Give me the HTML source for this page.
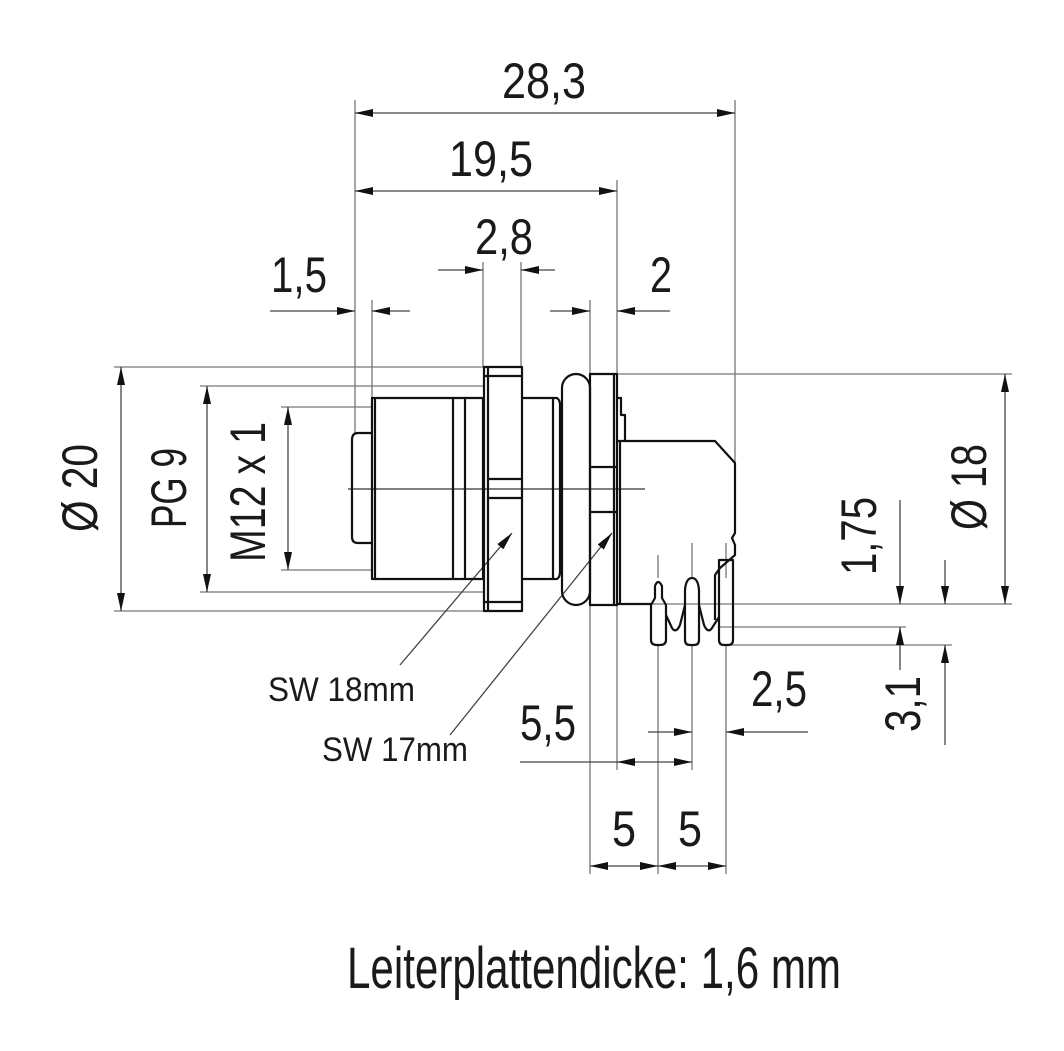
<!DOCTYPE html>
<html><head><meta charset="utf-8"><style>
html,body{margin:0;padding:0;background:#fff;}
svg{display:block;}
text{font-family:"Liberation Sans Narrow","Liberation Sans",sans-serif;fill:#1a1a1a;}
</style></head><body>
<svg width="1064" height="1051" viewBox="0 0 1064 1051" xmlns="http://www.w3.org/2000/svg">
<defs>
<marker id="a" viewBox="0 0 18 8" refX="18" refY="4" markerWidth="18" markerHeight="8" markerUnits="userSpaceOnUse" orient="auto-start-reverse">
<path d="M0,0 L18,4 L0,8 z" fill="#111"/></marker>
</defs>
<g stroke="#777" stroke-width="1.3" fill="none">
<line x1="355" y1="100" x2="355" y2="433"/>
<line x1="372" y1="300" x2="372" y2="398"/>
<line x1="483" y1="262" x2="483" y2="367"/>
<line x1="521" y1="262" x2="521" y2="367"/>
<line x1="590" y1="300" x2="590" y2="874"/>
<line x1="617" y1="180" x2="617" y2="770"/>
<line x1="735" y1="100" x2="735" y2="463"/>
<line x1="658" y1="645" x2="658" y2="874"/>
<line x1="692" y1="645" x2="692" y2="770"/>
<line x1="726" y1="645" x2="726" y2="874"/>
<line x1="658" y1="555" x2="658" y2="578"/>
<line x1="692" y1="543" x2="692" y2="578"/>
<line x1="726" y1="543" x2="726" y2="578"/>
<line x1="114" y1="367" x2="484" y2="367"/>
<line x1="114" y1="611" x2="484" y2="611"/>
<line x1="200" y1="386" x2="484" y2="386"/>
<line x1="200" y1="592" x2="484" y2="592"/>
<line x1="281" y1="407" x2="372" y2="407"/>
<line x1="281" y1="570" x2="372" y2="570"/>
<line x1="617" y1="374" x2="1012" y2="374"/>
<line x1="617" y1="604" x2="1012" y2="604"/>
<line x1="720" y1="627" x2="906" y2="627"/>
<line x1="726" y1="645" x2="952" y2="645"/>
<line x1="348" y1="489" x2="645" y2="489" stroke="#333"/>
</g>
<g stroke="#444" stroke-width="1.3" fill="none">
<line x1="355" y1="113" x2="735" y2="113" marker-start="url(#a)" marker-end="url(#a)"/>
<line x1="355" y1="191" x2="617" y2="191" marker-start="url(#a)" marker-end="url(#a)"/>
<line x1="438" y1="270" x2="483" y2="270" marker-end="url(#a)"/>
<line x1="555" y1="270" x2="521" y2="270" marker-end="url(#a)"/>
<line x1="270" y1="311" x2="355" y2="311" marker-end="url(#a)"/>
<line x1="410" y1="311" x2="372" y2="311" marker-end="url(#a)"/>
<line x1="550" y1="311" x2="590" y2="311" marker-end="url(#a)"/>
<line x1="670" y1="311" x2="617" y2="311" marker-end="url(#a)"/>
<line x1="121" y1="367" x2="121" y2="611" marker-start="url(#a)" marker-end="url(#a)"/>
<line x1="207" y1="386" x2="207" y2="592" marker-start="url(#a)" marker-end="url(#a)"/>
<line x1="288" y1="407" x2="288" y2="570" marker-start="url(#a)" marker-end="url(#a)"/>
<line x1="1005" y1="374" x2="1005" y2="604" marker-start="url(#a)" marker-end="url(#a)"/>
<line x1="900" y1="500" x2="900" y2="604" marker-end="url(#a)"/>
<line x1="900" y1="670" x2="900" y2="627" marker-end="url(#a)"/>
<line x1="945" y1="560" x2="945" y2="604" marker-end="url(#a)"/>
<line x1="945" y1="745" x2="945" y2="645" marker-end="url(#a)"/>
<line x1="617" y1="762" x2="692" y2="762" marker-start="url(#a)" marker-end="url(#a)"/>
<line x1="520" y1="762" x2="617" y2="762"/>
<line x1="648" y1="732" x2="692" y2="732" marker-end="url(#a)"/>
<line x1="808" y1="732" x2="726" y2="732" marker-end="url(#a)"/>
<line x1="590" y1="866" x2="658" y2="866" marker-start="url(#a)" marker-end="url(#a)"/>
<line x1="658" y1="866" x2="726" y2="866" marker-start="url(#a)" marker-end="url(#a)"/>
<line x1="400" y1="665" x2="512" y2="533" marker-end="url(#a)"/>
<line x1="450" y1="735" x2="612" y2="533" marker-end="url(#a)"/>
</g>
<g stroke="#111" stroke-width="2.2" fill="none" stroke-linejoin="round">
<path d="M372,433 L358,433 Q352,433 352,440 L352,537 Q352,543 358,543 L372,543"/>
<rect x="372" y="398" width="111" height="181"/>
<line x1="375" y1="398" x2="375" y2="579"/>
<line x1="453" y1="398" x2="453" y2="579"/>
<line x1="465" y1="398" x2="465" y2="579"/>
<rect x="484" y="367" width="38" height="244"/>
<line x1="488" y1="367" x2="488" y2="611"/>
<line x1="484" y1="376" x2="522" y2="376"/>
<line x1="484" y1="602" x2="522" y2="602"/>
<line x1="488" y1="479" x2="522" y2="479"/>
<line x1="488" y1="498" x2="522" y2="498"/>
<path d="M522,398 L557,398 Q560,400 560,405 L560,572 Q560,577 557,579 L522,579"/>
<line x1="553" y1="398" x2="553" y2="579"/>
<rect x="562" y="374" width="28" height="231" rx="14"/>
<rect x="590" y="374" width="27" height="231"/>
<line x1="590" y1="467" x2="617" y2="467"/>
<line x1="590" y1="512" x2="617" y2="512"/>
<line x1="614" y1="374" x2="614" y2="605"/>
<path d="M617,398 L621,398 L621,415 L625,415 L625,441"/>
<path d="M617,441 L715,441 L735,463 L735,533 L732,538 L735,545 L735,555 L720,568 L715,575 L715,620"/>
<line x1="617" y1="604" x2="652" y2="604"/>
<line x1="620" y1="441" x2="620" y2="604"/>
<!-- pins -->
<path d="M651,640 L651,605 L655,598 L655,586 Q658,578 662,586 L662,598 L666,605 L666,640 Q666,645 660,645 L657,645 Q651,645 651,640 Z"/>
<path d="M685,640 L685,590 Q686,578 692,578 Q698,578 699,590 L699,640 Q699,645 694,645 L690,645 Q685,645 685,640 Z"/>
<path d="M719,640 L719,560 L733,560 L733,640 Q733,645 728,645 L724,645 Q719,645 719,640 Z"/>
<path d="M666,615 L672,628 Q676,634 680,625 L685,605"/>
<path d="M699,605 L704,625 Q708,634 712,628 L719,617"/>
</g>
<text x="502" y="98" font-size="50" textLength="84" lengthAdjust="spacingAndGlyphs">28,3</text>
<text x="449" y="176" font-size="50" textLength="84" lengthAdjust="spacingAndGlyphs">19,5</text>
<text x="475" y="254" font-size="50" textLength="58" lengthAdjust="spacingAndGlyphs">2,8</text>
<text x="271" y="292" font-size="50" textLength="56" lengthAdjust="spacingAndGlyphs">1,5</text>
<text x="650" y="292" font-size="50" textLength="22" lengthAdjust="spacingAndGlyphs">2</text>
<text x="520" y="740" font-size="50" textLength="56" lengthAdjust="spacingAndGlyphs">5,5</text>
<text x="751" y="706" font-size="50" textLength="56" lengthAdjust="spacingAndGlyphs">2,5</text>
<text x="612" y="846" font-size="50" textLength="24" lengthAdjust="spacingAndGlyphs">5</text>
<text x="678" y="846" font-size="50" textLength="24" lengthAdjust="spacingAndGlyphs">5</text>
<text transform="translate(97,532) rotate(-90)" font-size="50" textLength="88" lengthAdjust="spacingAndGlyphs">Ø 20</text>
<text transform="translate(186,528) rotate(-90)" font-size="50" textLength="80" lengthAdjust="spacingAndGlyphs">PG 9</text>
<text transform="translate(265,562) rotate(-90)" font-size="50" textLength="140" lengthAdjust="spacingAndGlyphs">M12 x 1</text>
<text transform="translate(986,530) rotate(-90)" font-size="50" textLength="86" lengthAdjust="spacingAndGlyphs">Ø 18</text>
<text transform="translate(876,575) rotate(-90)" font-size="50" textLength="78" lengthAdjust="spacingAndGlyphs">1,75</text>
<text transform="translate(920,732) rotate(-90)" font-size="50" textLength="56" lengthAdjust="spacingAndGlyphs">3,1</text>
<text x="268" y="701" font-size="34" textLength="147" lengthAdjust="spacingAndGlyphs">SW 18mm</text>
<text x="322" y="761" font-size="34" textLength="146" lengthAdjust="spacingAndGlyphs">SW 17mm</text>
<text x="347" y="988" font-size="58" textLength="494" lengthAdjust="spacingAndGlyphs">Leiterplattendicke: 1,6 mm</text>
</svg>
</body></html>
